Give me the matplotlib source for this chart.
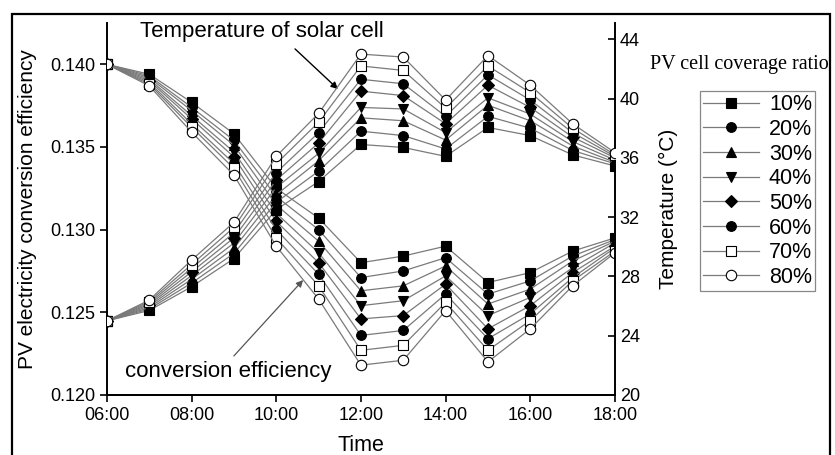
import numpy as np
import matplotlib
matplotlib.use("Agg")
import matplotlib.pyplot as plt
from matplotlib.patches import Rectangle

plt.rcParams['font.family'] = ['Liberation Sans', 'DejaVu Sans']

# hours of the day (06:00 .. 18:00)
hours = [6, 7, 8, 9, 10, 11, 12, 13, 14, 15, 16, 17, 18]
time_ticks = [6, 8, 10, 12, 14, 16, 18]
time_labels = ["06:00", "08:00", "10:00", "12:00", "14:00", "16:00", "18:00"]

coverage = ["10%", "20%", "30%", "40%", "50%", "60%", "70%", "80%"]

# solar cell temperature (°C), one row per hour, one column per coverage ratio
temp_6 = [25.0, 25.0, 25.0, 25.0, 25.0, 25.0, 25.0, 25.0]
temp_7 = [25.7, 25.8, 25.9, 26.0, 26.1, 26.2, 26.3, 26.4]
temp_8 = [27.3, 27.55, 27.8, 28.05, 28.3, 28.55, 28.8, 29.1]
temp_9 = [29.2, 29.55, 29.9, 30.25, 30.6, 30.95, 31.3, 31.65]
temp_10 = [32.5, 33.0, 33.5, 34.0, 34.5, 35.0, 35.6, 36.1]
temp_11 = [34.4, 35.1, 35.8, 36.3, 37.0, 37.7, 38.4, 39.0]
temp_12 = [36.9, 37.8, 38.7, 39.4, 40.5, 41.3, 42.2, 43.0]
temp_13 = [36.7, 37.5, 38.5, 39.3, 40.2, 41.0, 41.9, 42.8]
temp_14 = [36.1, 36.6, 37.2, 37.7, 38.3, 38.8, 39.35, 39.9]
temp_15 = [38.05, 38.8, 39.55, 40.05, 40.9, 41.6, 42.2, 42.9]
temp_16 = [37.5, 38.0, 38.5, 38.95, 39.4, 39.9, 40.4, 40.9]
temp_17 = [36.2, 36.5, 36.8, 37.1, 37.4, 37.7, 38.0, 38.3]
temp_18 = [35.45, 35.6, 35.7, 35.85, 36.0, 36.1, 36.2, 36.35]

# PV electricity conversion efficiency
eff_6 = [0.1400, 0.1400, 0.1400, 0.1400, 0.1400, 0.1400, 0.1400, 0.1400]
eff_7 = [0.1394, 0.1393, 0.1392, 0.1391, 0.1390, 0.1389, 0.1388, 0.1387]
eff_8 = [0.1377, 0.1374, 0.1372, 0.1369, 0.1367, 0.1364, 0.1362, 0.1359]
eff_9 = [0.1358, 0.1354, 0.1351, 0.1347, 0.1344, 0.1340, 0.1337, 0.1333]
eff_10 = [0.1325, 0.1320, 0.1315, 0.1310, 0.1305, 0.1300, 0.1295, 0.1290]
eff_11 = [0.1307, 0.1300, 0.1293, 0.1286, 0.1280, 0.1273, 0.1266, 0.1258]
eff_12 = [0.1280, 0.1271, 0.1263, 0.1254, 0.1246, 0.1236, 0.1227, 0.1218]
eff_13 = [0.1284, 0.1275, 0.1266, 0.1257, 0.1248, 0.1239, 0.1230, 0.1221]
eff_14 = [0.1290, 0.1283, 0.1278, 0.1272, 0.1267, 0.1261, 0.1256, 0.1251]
eff_15 = [0.1268, 0.1261, 0.1255, 0.1248, 0.1240, 0.1234, 0.1227, 0.1220]
eff_16 = [0.1274, 0.1269, 0.1264, 0.1259, 0.1254, 0.1249, 0.1245, 0.1240]
eff_17 = [0.1287, 0.1284, 0.1281, 0.1277, 0.1274, 0.1271, 0.1269, 0.1266]
eff_18 = [0.1295, 0.1294, 0.1293, 0.1292, 0.1290, 0.1289, 0.1287, 0.1286]

temps = np.array([temp_6, temp_7, temp_8, temp_9, temp_10, temp_11, temp_12,
                  temp_13, temp_14, temp_15, temp_16, temp_17, temp_18])
effs = np.array([eff_6, eff_7, eff_8, eff_9, eff_10, eff_11, eff_12,
                 eff_13, eff_14, eff_15, eff_16, eff_17, eff_18])

markers = ["s", "o", "^", "v", "D", "o", "s", "o"]
faces = ["black"] * 6 + ["white", "white"]
msizes = [6.5, 7, 7, 7, 6, 7, 7, 7.5]

fig = plt.figure(figsize=(8.35, 4.55), dpi=100)
ax = fig.add_axes([0.128, 0.132, 0.6085, 0.8175])
ax2 = ax.twinx()

line_col = "#7a7a7a"
handles = []
for i in range(len(coverage)):
    style = dict(color=line_col, lw=0.9, marker=markers[i], ms=msizes[i],
                 mfc=faces[i], mec="black", mew=0.8)
    ax.plot(hours, effs[:, i], zorder=3 + i * 0.1, **style)
    h, = ax2.plot(hours, temps[:, i], zorder=3 + i * 0.1, **style)
    handles.append(h)

ax.set_xlim(6, 18)
ax.set_ylim(0.120, 0.1425)
ax2.set_ylim(20, 45.1)
ax.set_xticks(time_ticks)
ax.set_xticklabels(time_labels)
ax.set_yticks([0.120, 0.125, 0.130, 0.135, 0.140])
ax.set_yticklabels(["0.120", "0.125", "0.130", "0.135", "0.140"])
ax2.set_yticks([20, 24, 28, 32, 36, 40, 44])

for a in (ax, ax2):
    a.spines["top"].set_visible(False)
    for s in a.spines.values():
        s.set_linewidth(1.4)
ax.spines["right"].set_visible(False)
ax2.spines["left"].set_visible(False)

ax.tick_params(axis="both", direction="out", length=5, width=1.2, labelsize=13)
ax2.tick_params(axis="y", direction="in", length=5, width=1.2, labelsize=13)

ax.set_xlabel("Time", fontsize=15.5, labelpad=8)
ax.set_ylabel("PV electricity conversion efficiency", fontsize=15, labelpad=9)
ax2.set_ylabel("Temperature (°C)", fontsize=15, labelpad=14)

# annotations
ax.annotate("", xy=(340, 455 - 91), xytext=(293, 455 - 47),
            xycoords="figure pixels", textcoords="figure pixels",
            arrowprops=dict(arrowstyle="-|>", color="black", lw=1.0,
                            mutation_scale=10))
fig.text(140 / 835, 1 - 32 / 455, "Temperature of solar cell",
         fontsize=16, va="center", ha="left")
ax.annotate("", xy=(305, 455 - 278), xytext=(232, 455 - 358),
            xycoords="figure pixels", textcoords="figure pixels",
            arrowprops=dict(arrowstyle="-|>", color="#555555", lw=0.9,
                            mutation_scale=10))
fig.text(125 / 835, 1 - 372 / 455, "conversion efficiency",
         fontsize=16, va="center", ha="left")

# legend
fig.text(650 / 835, 1 - 65 / 455, "PV cell coverage ratio",
         fontsize=14.5, family=["Liberation Serif", "DejaVu Serif"],
         va="center", ha="left")
leg = fig.legend(handles, coverage, loc="upper left",
                 bbox_to_anchor=(700 / 835, 1 - 91 / 455),
                 fontsize=15.5, handlelength=2.6, handletextpad=0.45,
                 labelspacing=0.17, borderpad=0.15, fancybox=False,
                 edgecolor="#888888", framealpha=1, borderaxespad=0)
leg.get_frame().set_linewidth(0.9)

# outer frame of the picture
fig.patches.append(Rectangle((12 / 835, -0.02), 818 / 835, 1 - 14 / 455 + 0.02,
                             transform=fig.transFigure, fill=False,
                             edgecolor="black", lw=1.6))

fig.savefig("out.png", dpi=100)
